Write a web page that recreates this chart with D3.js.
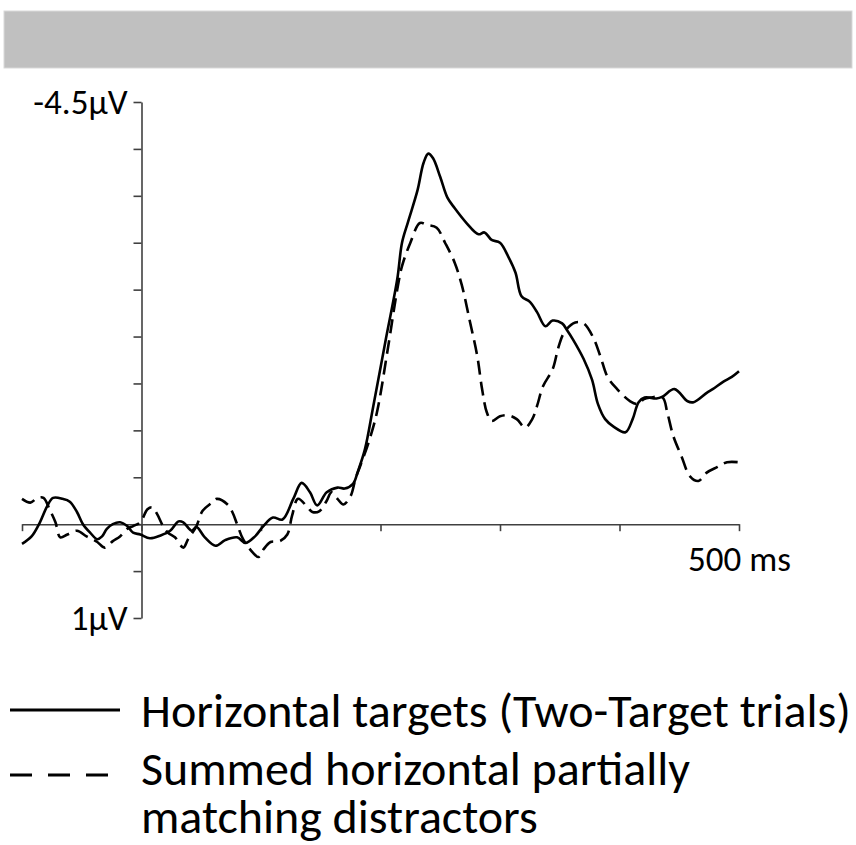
<!DOCTYPE html>
<html>
<head>
<meta charset="utf-8">
<script src="https://cdn.jsdelivr.net/npm/d3@7"></script>
<style>
  body { margin: 0; background: #fff; }
  svg text { font-family: Carlito, Calibri, Lato, sans-serif; fill: #000; }
</style>
</head>
<body>
<svg id="chart" width="856" height="845"></svg>
<script>
// time in ms, amplitude in microvolts (negative plotted up)
const solidMs = [-100,-92,-85,-79,-74,-66,-60,-54,-49,-43,-37,-33,-29,-24,-18,-12,-7,-1,7,16,
  24,31,35,42,46,53,62,70,80,87,95,102,110,118,127,134,141,147,155,164,
  170,177,181,187,194,204,214,218,223,231,236,240,244,250,256,262,272,282,287,293,
  300,307,313,318,325,331,338,344,352,356,361,370,377,382,388,395,405,411,416,421,
  431,436,446,457,462,473,478,487,494,500];
const solidUv = [0.21,0.13,-0.02,-0.19,-0.28,-0.27,-0.24,-0.13,0.00,0.09,0.16,0.13,0.05,0.00,-0.02,0.02,0.09,0.11,0.15,0.12,
  0.07,-0.03,-0.02,0.07,0.03,0.14,0.23,0.17,0.14,0.20,0.13,0.02,-0.07,-0.05,-0.27,-0.44,-0.34,-0.20,-0.34,-0.39,
  -0.38,-0.43,-0.56,-0.80,-1.26,-1.94,-2.61,-3.00,-3.22,-3.56,-3.85,-3.95,-3.90,-3.70,-3.48,-3.37,-3.21,-3.09,-3.11,-3.03,
  -3.00,-2.85,-2.68,-2.43,-2.37,-2.26,-2.11,-2.17,-2.14,-2.07,-1.97,-1.76,-1.54,-1.28,-1.12,-1.04,-0.98,-1.12,-1.30,-1.35,
  -1.34,-1.36,-1.44,-1.31,-1.30,-1.40,-1.44,-1.52,-1.57,-1.63];

const dashedMs = [-100,-93,-87,-82,-77,-72,-68,-62,-54,-46,-37,-31,-24,-18,-12,-7,-1,5,9,13,
  18,22,28,35,39,46,51,59,63,72,76,80,85,93,98,102,108,116,122,126,
  131,139,143,149,155,159,164,169,175,179,183,190,197,206,214,218,225,233,239,247,
  254,262,268,275,281,285,289,293,300,307,314,321,327,331,336,344,349,354,363,370,
  378,384,390,398,409,416,420,426,436,440,445,452,459,466,473,482,490,500];
const dashedUv = [-0.27,-0.23,-0.28,-0.28,-0.16,-0.02,0.14,0.11,0.07,0.13,0.19,0.25,0.18,0.13,0.05,0.02,-0.02,-0.16,-0.18,-0.11,
  0.02,0.09,0.14,0.25,0.16,0.02,-0.14,-0.23,-0.27,-0.21,-0.13,0.00,0.16,0.30,0.35,0.27,0.19,0.18,0.11,-0.09,
  -0.27,-0.18,-0.13,-0.14,-0.25,-0.34,-0.27,-0.21,-0.30,-0.48,-0.62,-0.87,-1.19,-1.86,-2.50,-2.75,-3.00,-3.21,-3.19,-3.16,
  -3.00,-2.79,-2.55,-2.15,-1.79,-1.44,-1.19,-1.10,-1.15,-1.16,-1.12,-1.03,-1.12,-1.26,-1.47,-1.65,-1.89,-2.05,-2.15,-2.14,
  -1.99,-1.79,-1.57,-1.44,-1.31,-1.28,-1.33,-1.35,-1.35,-1.19,-0.94,-0.72,-0.51,-0.46,-0.55,-0.61,-0.66,-0.66];

const xTicks = [-100, 0, 100, 200, 300, 400, 500];
const yTicks = d3.range(-4.5, 1.01, 0.5);
const legendLabels = [
  ['Horizontal targets (Two-Target trials)'],
  ['Summed horizontal partially', 'matching distractors']
];

const svg = d3.select('#chart');

// grey header band
svg.append('rect')
  .attr('x', 4).attr('y', 11)
  .attr('width', 848).attr('height', 57)
  .attr('fill', '#c0c0c0')
  .attr('stroke', '#d9d9d9');

const x = d3.scaleLinear().domain([-100, 500]).range([22, 739]);
const y = d3.scaleLinear().domain([-4.5, 1]).range([102, 618]);

// y axis
const yAxis = svg.append('g')
  .attr('transform', `translate(${x(0)},0)`)
  .call(d3.axisLeft(y).tickValues(yTicks).tickSize(8).tickSizeOuter(0).tickPadding(6)
    .tickFormat(d => Math.abs(d + 4.5) < 1e-6 ? '-4.5µV' : Math.abs(d - 1) < 1e-6 ? '1µV' : ''));
yAxis.select('.domain').attr('stroke', '#404040').attr('stroke-width', 1.6);
yAxis.selectAll('.tick line').attr('stroke', '#404040').attr('stroke-width', 1.6);
yAxis.selectAll('.tick text').attr('font-size', 35).attr('fill', '#000')
  .style('font-family', 'Carlito, Calibri, Lato, sans-serif');

// x axis
const xAxis = svg.append('g')
  .attr('transform', `translate(0,${y(0)})`)
  .call(d3.axisBottom(x).tickValues(xTicks).tickSize(7).tickSizeOuter(0).tickPadding(15)
    .tickFormat(d => d === 500 ? '500 ms' : ''));
xAxis.select('.domain').attr('stroke', '#404040').attr('stroke-width', 1.6);
xAxis.selectAll('.tick line').attr('stroke', '#404040').attr('stroke-width', 1.6);
xAxis.selectAll('.tick text').attr('font-size', 35).attr('fill', '#000')
  .style('font-family', 'Carlito, Calibri, Lato, sans-serif');

const line = d3.line()
  .x(d => x(d[0]))
  .y(d => y(d[1]))
  .curve(d3.curveCatmullRom.alpha(0.5));

svg.append('path')
  .datum(dashedMs.map((t, i) => [t, dashedUv[i]]))
  .attr('d', line)
  .attr('fill', 'none')
  .attr('stroke', '#000')
  .attr('stroke-width', 2.6)
  .attr('stroke-dasharray', '14,7');

svg.append('path')
  .datum(solidMs.map((t, i) => [t, solidUv[i]]))
  .attr('d', line)
  .attr('fill', 'none')
  .attr('stroke', '#000')
  .attr('stroke-width', 2.6);

// legend
const legendFont = 48;
const lg = svg.append('g');
lg.append('line')
  .attr('x1', 10).attr('x2', 120).attr('y1', 710).attr('y2', 710)
  .attr('stroke', '#000').attr('stroke-width', 3);
lg.append('line')
  .attr('x1', 10).attr('x2', 108).attr('y1', 775).attr('y2', 775)
  .attr('stroke', '#000').attr('stroke-width', 3)
  .attr('stroke-dasharray', '22,16');

// each entry is one text; wrapped rows go in tspans
const baselines = [727, 785];
legendLabels.forEach((rows, i) => {
  const t = lg.append('text')
    .attr('x', 141)
    .attr('y', baselines[i])
    .attr('font-size', legendFont);
  rows.forEach((row, j) => {
    t.append('tspan')
      .attr('x', 141)
      .attr('dy', j === 0 ? 0 : 48)
      .text(row);
  });
});
</script>
</body>
</html>
